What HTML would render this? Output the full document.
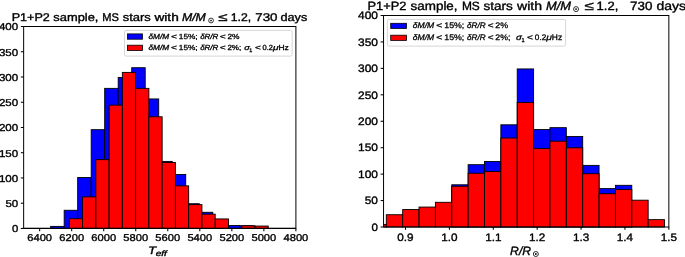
<!DOCTYPE html>
<html lang="en"><head><meta charset="utf-8"><title>P1+P2 sample histograms</title>
<style>
html,body{margin:0;padding:0;background:#fff;}
body{width:685px;height:257px;overflow:hidden;font-family:"Liberation Sans",sans-serif;}
svg{will-change:transform;}
svg text{font-family:"Liberation Sans",sans-serif;stroke:#000;stroke-width:0.36px;stroke-linejoin:round;text-rendering:geometricPrecision;}
svg .lg text{stroke-width:0.3px;}
</style></head><body>
<svg role="img" aria-label="Two histograms of the P1+P2 sample: Teff and R/Rsun" width="685" height="257" viewBox="0 0 685 257" style="display:block" fill="#000">
<rect width="685" height="257" fill="#fff"/>
<g id="left-plot">
<rect x="50.66" y="226.39" width="13.51" height="2.06" fill="#0000ff" stroke="#000" stroke-width="0.9"/>
<rect x="64.17" y="210.27" width="13.51" height="18.18" fill="#0000ff" stroke="#000" stroke-width="0.9"/>
<rect x="77.67" y="177.53" width="13.51" height="50.92" fill="#0000ff" stroke="#000" stroke-width="0.9"/>
<rect x="91.18" y="129.67" width="13.51" height="98.78" fill="#0000ff" stroke="#000" stroke-width="0.9"/>
<rect x="104.69" y="88.36" width="13.51" height="140.09" fill="#0000ff" stroke="#000" stroke-width="0.9"/>
<rect x="118.19" y="77.53" width="13.51" height="150.92" fill="#0000ff" stroke="#000" stroke-width="0.9"/>
<rect x="131.70" y="67.71" width="13.51" height="160.74" fill="#0000ff" stroke="#000" stroke-width="0.9"/>
<rect x="145.21" y="98.94" width="13.51" height="129.51" fill="#0000ff" stroke="#000" stroke-width="0.9"/>
<rect x="158.72" y="161.41" width="13.51" height="67.04" fill="#0000ff" stroke="#000" stroke-width="0.9"/>
<rect x="172.22" y="174.50" width="13.51" height="53.95" fill="#0000ff" stroke="#000" stroke-width="0.9"/>
<rect x="185.73" y="203.72" width="13.51" height="24.73" fill="#0000ff" stroke="#000" stroke-width="0.9"/>
<rect x="199.24" y="212.28" width="13.51" height="16.17" fill="#0000ff" stroke="#000" stroke-width="0.9"/>
<rect x="212.74" y="220.34" width="13.51" height="8.11" fill="#0000ff" stroke="#000" stroke-width="0.9"/>
<rect x="226.25" y="225.53" width="13.51" height="2.92" fill="#0000ff" stroke="#000" stroke-width="0.9"/>
<rect x="239.76" y="225.73" width="13.51" height="2.72" fill="#0000ff" stroke="#000" stroke-width="0.9"/>
<rect x="69.32" y="218.68" width="13.26" height="9.77" fill="#ff0000" stroke="#000" stroke-width="0.9"/>
<rect x="82.58" y="196.87" width="13.26" height="31.58" fill="#ff0000" stroke="#000" stroke-width="0.9"/>
<rect x="95.84" y="159.64" width="13.26" height="68.81" fill="#ff0000" stroke="#000" stroke-width="0.9"/>
<rect x="109.10" y="105.14" width="13.26" height="123.31" fill="#ff0000" stroke="#000" stroke-width="0.9"/>
<rect x="122.36" y="72.39" width="13.26" height="156.06" fill="#ff0000" stroke="#000" stroke-width="0.9"/>
<rect x="135.62" y="88.36" width="13.26" height="140.09" fill="#ff0000" stroke="#000" stroke-width="0.9"/>
<rect x="148.89" y="116.77" width="13.26" height="111.68" fill="#ff0000" stroke="#000" stroke-width="0.9"/>
<rect x="162.15" y="162.51" width="13.26" height="65.94" fill="#ff0000" stroke="#000" stroke-width="0.9"/>
<rect x="175.41" y="185.84" width="13.26" height="42.61" fill="#ff0000" stroke="#000" stroke-width="0.9"/>
<rect x="188.67" y="204.63" width="13.26" height="23.82" fill="#ff0000" stroke="#000" stroke-width="0.9"/>
<rect x="201.93" y="214.15" width="13.26" height="14.30" fill="#ff0000" stroke="#000" stroke-width="0.9"/>
<rect x="215.19" y="218.93" width="13.26" height="9.52" fill="#ff0000" stroke="#000" stroke-width="0.9"/>
<rect x="241.71" y="225.78" width="13.26" height="2.67" fill="#ff0000" stroke="#000" stroke-width="0.9"/>
<rect x="254.97" y="226.04" width="13.26" height="2.41" fill="#ff0000" stroke="#000" stroke-width="0.9"/>
<line x1="23.65" x2="295.9" y1="228.45" y2="228.45" stroke="#000" stroke-width="1.25"/>
<rect x="23.65" y="26.5" width="272.25" height="201.95" fill="none" stroke="#000" stroke-width="1.0"/>
<line x1="20.85" x2="23.65" y1="228.45" y2="228.45" stroke="#000" stroke-width="1.05"/>
<text x="11.90" y="232.30" font-size="10.0" textLength="6.30" lengthAdjust="spacingAndGlyphs">0</text>
<line x1="20.85" x2="23.65" y1="203.21" y2="203.21" stroke="#000" stroke-width="1.05"/>
<text x="5.40" y="207.06" font-size="10.0" textLength="12.80" lengthAdjust="spacingAndGlyphs">50</text>
<line x1="20.85" x2="23.65" y1="177.96" y2="177.96" stroke="#000" stroke-width="1.05"/>
<text x="-1.10" y="181.81" font-size="10.0" textLength="19.30" lengthAdjust="spacingAndGlyphs">100</text>
<line x1="20.85" x2="23.65" y1="152.72" y2="152.72" stroke="#000" stroke-width="1.05"/>
<text x="-1.10" y="156.57" font-size="10.0" textLength="19.30" lengthAdjust="spacingAndGlyphs">150</text>
<line x1="20.85" x2="23.65" y1="127.47" y2="127.47" stroke="#000" stroke-width="1.05"/>
<text x="-1.10" y="131.32" font-size="10.0" textLength="19.30" lengthAdjust="spacingAndGlyphs">200</text>
<line x1="20.85" x2="23.65" y1="102.23" y2="102.23" stroke="#000" stroke-width="1.05"/>
<text x="-1.10" y="106.08" font-size="10.0" textLength="19.30" lengthAdjust="spacingAndGlyphs">250</text>
<line x1="20.85" x2="23.65" y1="76.99" y2="76.99" stroke="#000" stroke-width="1.05"/>
<text x="-1.10" y="80.84" font-size="10.0" textLength="19.30" lengthAdjust="spacingAndGlyphs">300</text>
<line x1="20.85" x2="23.65" y1="51.74" y2="51.74" stroke="#000" stroke-width="1.05"/>
<text x="-1.10" y="55.59" font-size="10.0" textLength="19.30" lengthAdjust="spacingAndGlyphs">350</text>
<line x1="20.85" x2="23.65" y1="26.50" y2="26.50" stroke="#000" stroke-width="1.05"/>
<text x="-1.10" y="30.35" font-size="10.0" textLength="19.30" lengthAdjust="spacingAndGlyphs">400</text>
<line x1="39.66" x2="39.66" y1="228.45" y2="231.15" stroke="#000" stroke-width="1.05"/>
<text x="27.27" y="241.25" font-size="9.9" textLength="24.79" lengthAdjust="spacingAndGlyphs">6400</text>
<line x1="71.69" x2="71.69" y1="228.45" y2="231.15" stroke="#000" stroke-width="1.05"/>
<text x="59.30" y="241.25" font-size="9.9" textLength="24.79" lengthAdjust="spacingAndGlyphs">6200</text>
<line x1="103.72" x2="103.72" y1="228.45" y2="231.15" stroke="#000" stroke-width="1.05"/>
<text x="91.33" y="241.25" font-size="9.9" textLength="24.79" lengthAdjust="spacingAndGlyphs">6000</text>
<line x1="135.75" x2="135.75" y1="228.45" y2="231.15" stroke="#000" stroke-width="1.05"/>
<text x="123.36" y="241.25" font-size="9.9" textLength="24.79" lengthAdjust="spacingAndGlyphs">5800</text>
<line x1="167.78" x2="167.78" y1="228.45" y2="231.15" stroke="#000" stroke-width="1.05"/>
<text x="155.39" y="241.25" font-size="9.9" textLength="24.79" lengthAdjust="spacingAndGlyphs">5600</text>
<line x1="199.81" x2="199.81" y1="228.45" y2="231.15" stroke="#000" stroke-width="1.05"/>
<text x="187.42" y="241.25" font-size="9.9" textLength="24.79" lengthAdjust="spacingAndGlyphs">5400</text>
<line x1="231.84" x2="231.84" y1="228.45" y2="231.15" stroke="#000" stroke-width="1.05"/>
<text x="219.45" y="241.25" font-size="9.9" textLength="24.79" lengthAdjust="spacingAndGlyphs">5200</text>
<line x1="263.87" x2="263.87" y1="228.45" y2="231.15" stroke="#000" stroke-width="1.05"/>
<text x="251.47" y="241.25" font-size="9.9" textLength="24.79" lengthAdjust="spacingAndGlyphs">5000</text>
<line x1="295.90" x2="295.90" y1="228.45" y2="231.15" stroke="#000" stroke-width="1.05"/>
<text x="283.50" y="241.25" font-size="9.9" textLength="24.79" lengthAdjust="spacingAndGlyphs">4800</text>
<text x="11.65" y="21.35" font-size="11.2" textLength="38.20" lengthAdjust="spacingAndGlyphs">P1+P2</text>
<text x="53.35" y="21.35" font-size="11.2" textLength="45.10" lengthAdjust="spacingAndGlyphs">sample,</text>
<text x="102.35" y="21.35" font-size="11.2" textLength="16.60" lengthAdjust="spacingAndGlyphs">MS</text>
<text x="122.75" y="21.35" font-size="11.2" textLength="28.10" lengthAdjust="spacingAndGlyphs">stars</text>
<text x="154.45" y="21.35" font-size="11.2" textLength="24.30" lengthAdjust="spacingAndGlyphs">with</text>
<text x="181.95" y="21.35" font-size="11.2" font-style="italic" textLength="23.90" lengthAdjust="spacingAndGlyphs">M/M</text>
<circle cx="211.05" cy="20.50" r="2.40" fill="none" stroke="#000" stroke-width="0.8"/>
<circle cx="211.05" cy="20.50" r="0.86" fill="#000"/>
<text x="218.35" y="21.35" font-size="11.2" textLength="9.30" lengthAdjust="spacingAndGlyphs">≤</text>
<text x="230.75" y="21.35" font-size="11.2" textLength="20.40" lengthAdjust="spacingAndGlyphs">1.2,</text>
<text x="255.25" y="21.35" font-size="11.2" textLength="22.30" lengthAdjust="spacingAndGlyphs">730</text>
<text x="280.40" y="21.35" font-size="11.2" textLength="26.85" lengthAdjust="spacingAndGlyphs">days</text>
<text x="148.07" y="254.40" font-size="10.8" font-style="italic" textLength="8.16" lengthAdjust="spacingAndGlyphs">T</text>
<text x="155.69" y="256.30" font-size="7.8" font-style="italic" textLength="11.22" lengthAdjust="spacingAndGlyphs">eff</text>
<g class="lg">
<rect x="124.5" y="30.4" width="167.65" height="25.70" rx="1.6" fill="#fff" fill-opacity="0.8" stroke="#ccc" stroke-width="0.8"/>
<rect x="127.4" y="33.9" width="15.1" height="5.3" fill="#0000ff" stroke="#000" stroke-width="0.8"/>
<rect x="127.4" y="45.2" width="15.1" height="5.3" fill="#ff0000" stroke="#000" stroke-width="0.8"/>
<text x="148.50" y="38.90" font-size="7.4" font-style="italic" textLength="20.64" lengthAdjust="spacingAndGlyphs">δM/M</text>
<text x="171.10" y="38.90" font-size="7.4" textLength="5.99" lengthAdjust="spacingAndGlyphs">&lt;</text>
<text x="178.80" y="38.90" font-size="7.4" textLength="18.79" lengthAdjust="spacingAndGlyphs">15%;</text>
<text x="200.20" y="38.90" font-size="7.4" font-style="italic" textLength="17.99" lengthAdjust="spacingAndGlyphs">δR/R</text>
<text x="219.80" y="38.90" font-size="7.4" textLength="5.99" lengthAdjust="spacingAndGlyphs">&lt;</text>
<text x="148.50" y="50.20" font-size="7.4" font-style="italic" textLength="20.64" lengthAdjust="spacingAndGlyphs">δM/M</text>
<text x="171.10" y="50.20" font-size="7.4" textLength="5.99" lengthAdjust="spacingAndGlyphs">&lt;</text>
<text x="178.80" y="50.20" font-size="7.4" textLength="18.79" lengthAdjust="spacingAndGlyphs">15%;</text>
<text x="200.20" y="50.20" font-size="7.4" font-style="italic" textLength="17.99" lengthAdjust="spacingAndGlyphs">δR/R</text>
<text x="219.80" y="50.20" font-size="7.4" textLength="5.99" lengthAdjust="spacingAndGlyphs">&lt;</text>
<text x="227.40" y="38.90" font-size="7.4" textLength="12.09" lengthAdjust="spacingAndGlyphs">2%</text>
<text x="227.40" y="50.20" font-size="7.4" textLength="13.89" lengthAdjust="spacingAndGlyphs">2%;</text>
<text x="244.30" y="50.20" font-size="7.4" font-style="italic" textLength="5.59" lengthAdjust="spacingAndGlyphs">σ</text>
<text x="249.39" y="51.80" font-size="5.18" textLength="3.01" lengthAdjust="spacingAndGlyphs">1</text>
<text x="255.00" y="50.20" font-size="7.4" textLength="5.89" lengthAdjust="spacingAndGlyphs">&lt;</text>
<text x="262.60" y="50.20" font-size="7.4" textLength="10.39" lengthAdjust="spacingAndGlyphs">0.2</text>
<text x="273.00" y="50.20" font-size="7.4" font-style="italic" textLength="5.59" lengthAdjust="spacingAndGlyphs">μ</text>
<text x="278.40" y="50.20" font-size="7.4" textLength="10.29" lengthAdjust="spacingAndGlyphs">Hz</text>
</g>
</g>
<g id="right-plot">
<clipPath id="c2"><rect x="383.55" y="15.5" width="285.30" height="212.50"/></clipPath>
<g clip-path="url(#c2)">
<rect x="451.76" y="184.79" width="16.37" height="42.21" fill="#0000ff" stroke="#000" stroke-width="0.9"/>
<rect x="468.13" y="164.69" width="16.37" height="62.31" fill="#0000ff" stroke="#000" stroke-width="0.9"/>
<rect x="484.50" y="161.46" width="16.37" height="65.54" fill="#0000ff" stroke="#000" stroke-width="0.9"/>
<rect x="500.86" y="124.80" width="16.37" height="102.20" fill="#0000ff" stroke="#000" stroke-width="0.9"/>
<rect x="517.23" y="68.94" width="16.37" height="158.06" fill="#0000ff" stroke="#000" stroke-width="0.9"/>
<rect x="533.59" y="129.56" width="16.37" height="97.44" fill="#0000ff" stroke="#000" stroke-width="0.9"/>
<rect x="549.96" y="127.66" width="16.37" height="99.34" fill="#0000ff" stroke="#000" stroke-width="0.9"/>
<rect x="566.33" y="136.44" width="16.37" height="90.56" fill="#0000ff" stroke="#000" stroke-width="0.9"/>
<rect x="582.69" y="165.38" width="16.37" height="61.62" fill="#0000ff" stroke="#000" stroke-width="0.9"/>
<rect x="599.06" y="188.60" width="16.37" height="38.40" fill="#0000ff" stroke="#000" stroke-width="0.9"/>
<rect x="615.42" y="185.32" width="16.37" height="41.68" fill="#0000ff" stroke="#000" stroke-width="0.9"/>
<rect x="369.93" y="224.41" width="16.37" height="2.59" fill="#ff0000" stroke="#000" stroke-width="0.9"/>
<rect x="386.30" y="214.73" width="16.37" height="12.27" fill="#ff0000" stroke="#000" stroke-width="0.9"/>
<rect x="402.67" y="209.55" width="16.37" height="17.45" fill="#ff0000" stroke="#000" stroke-width="0.9"/>
<rect x="419.03" y="207.06" width="16.37" height="19.94" fill="#ff0000" stroke="#000" stroke-width="0.9"/>
<rect x="435.40" y="202.30" width="16.37" height="24.70" fill="#ff0000" stroke="#000" stroke-width="0.9"/>
<rect x="451.76" y="186.27" width="16.37" height="40.73" fill="#ff0000" stroke="#000" stroke-width="0.9"/>
<rect x="468.13" y="173.26" width="16.37" height="53.74" fill="#ff0000" stroke="#000" stroke-width="0.9"/>
<rect x="484.50" y="171.57" width="16.37" height="55.43" fill="#ff0000" stroke="#000" stroke-width="0.9"/>
<rect x="500.86" y="138.03" width="16.37" height="88.97" fill="#ff0000" stroke="#000" stroke-width="0.9"/>
<rect x="517.23" y="102.43" width="16.37" height="124.57" fill="#ff0000" stroke="#000" stroke-width="0.9"/>
<rect x="533.59" y="148.61" width="16.37" height="78.39" fill="#ff0000" stroke="#000" stroke-width="0.9"/>
<rect x="549.96" y="141.20" width="16.37" height="85.80" fill="#ff0000" stroke="#000" stroke-width="0.9"/>
<rect x="566.33" y="147.81" width="16.37" height="79.19" fill="#ff0000" stroke="#000" stroke-width="0.9"/>
<rect x="582.69" y="173.74" width="16.37" height="53.26" fill="#ff0000" stroke="#000" stroke-width="0.9"/>
<rect x="599.06" y="193.73" width="16.37" height="33.27" fill="#ff0000" stroke="#000" stroke-width="0.9"/>
<rect x="615.42" y="189.55" width="16.37" height="37.45" fill="#ff0000" stroke="#000" stroke-width="0.9"/>
<rect x="631.79" y="200.19" width="16.37" height="26.81" fill="#ff0000" stroke="#000" stroke-width="0.9"/>
<rect x="648.16" y="219.65" width="16.37" height="7.35" fill="#ff0000" stroke="#000" stroke-width="0.9"/>
</g>
<rect x="383.55" y="15.5" width="285.30" height="211.50" fill="none" stroke="#000" stroke-width="1.0"/>
<line x1="380.65" x2="383.55" y1="227.00" y2="227.00" stroke="#000" stroke-width="1.05"/>
<text x="371.52" y="230.75" font-size="10.8" textLength="6.41" lengthAdjust="spacingAndGlyphs">0</text>
<line x1="380.65" x2="383.55" y1="200.56" y2="200.56" stroke="#000" stroke-width="1.05"/>
<text x="364.77" y="204.31" font-size="10.8" textLength="13.16" lengthAdjust="spacingAndGlyphs">50</text>
<line x1="380.65" x2="383.55" y1="174.12" y2="174.12" stroke="#000" stroke-width="1.05"/>
<text x="358.02" y="177.88" font-size="10.8" textLength="19.91" lengthAdjust="spacingAndGlyphs">100</text>
<line x1="380.65" x2="383.55" y1="147.69" y2="147.69" stroke="#000" stroke-width="1.05"/>
<text x="358.02" y="151.44" font-size="10.8" textLength="19.91" lengthAdjust="spacingAndGlyphs">150</text>
<line x1="380.65" x2="383.55" y1="121.25" y2="121.25" stroke="#000" stroke-width="1.05"/>
<text x="358.02" y="125.00" font-size="10.8" textLength="19.91" lengthAdjust="spacingAndGlyphs">200</text>
<line x1="380.65" x2="383.55" y1="94.81" y2="94.81" stroke="#000" stroke-width="1.05"/>
<text x="358.02" y="98.56" font-size="10.8" textLength="19.91" lengthAdjust="spacingAndGlyphs">250</text>
<line x1="380.65" x2="383.55" y1="68.37" y2="68.37" stroke="#000" stroke-width="1.05"/>
<text x="358.02" y="72.12" font-size="10.8" textLength="19.91" lengthAdjust="spacingAndGlyphs">300</text>
<line x1="380.65" x2="383.55" y1="41.94" y2="41.94" stroke="#000" stroke-width="1.05"/>
<text x="358.02" y="45.69" font-size="10.8" textLength="19.91" lengthAdjust="spacingAndGlyphs">350</text>
<line x1="380.65" x2="383.55" y1="15.50" y2="15.50" stroke="#000" stroke-width="1.05"/>
<text x="358.02" y="19.25" font-size="10.8" textLength="19.91" lengthAdjust="spacingAndGlyphs">400</text>
<line x1="405.50" x2="405.50" y1="227.00" y2="229.80" stroke="#000" stroke-width="1.05"/>
<text x="397.36" y="240.60" font-size="10.8" textLength="16.26" lengthAdjust="spacingAndGlyphs">0.9</text>
<line x1="449.39" x2="449.39" y1="227.00" y2="229.80" stroke="#000" stroke-width="1.05"/>
<text x="441.26" y="240.60" font-size="10.8" textLength="16.26" lengthAdjust="spacingAndGlyphs">1.0</text>
<line x1="493.28" x2="493.28" y1="227.00" y2="229.80" stroke="#000" stroke-width="1.05"/>
<text x="485.15" y="240.60" font-size="10.8" textLength="16.26" lengthAdjust="spacingAndGlyphs">1.1</text>
<line x1="537.17" x2="537.17" y1="227.00" y2="229.80" stroke="#000" stroke-width="1.05"/>
<text x="529.04" y="240.60" font-size="10.8" textLength="16.26" lengthAdjust="spacingAndGlyphs">1.2</text>
<line x1="581.07" x2="581.07" y1="227.00" y2="229.80" stroke="#000" stroke-width="1.05"/>
<text x="572.93" y="240.60" font-size="10.8" textLength="16.26" lengthAdjust="spacingAndGlyphs">1.3</text>
<line x1="624.96" x2="624.96" y1="227.00" y2="229.80" stroke="#000" stroke-width="1.05"/>
<text x="616.83" y="240.60" font-size="10.8" textLength="16.26" lengthAdjust="spacingAndGlyphs">1.4</text>
<line x1="668.85" x2="668.85" y1="227.00" y2="229.80" stroke="#000" stroke-width="1.05"/>
<text x="660.72" y="240.60" font-size="10.8" textLength="16.26" lengthAdjust="spacingAndGlyphs">1.5</text>
<text x="367.42" y="9.70" font-size="12.0" textLength="38.96" lengthAdjust="spacingAndGlyphs">P1+P2</text>
<text x="410.57" y="9.70" font-size="12.0" textLength="47.01" lengthAdjust="spacingAndGlyphs">sample,</text>
<text x="461.92" y="9.70" font-size="12.0" textLength="17.91" lengthAdjust="spacingAndGlyphs">MS</text>
<text x="483.57" y="9.70" font-size="12.0" textLength="29.31" lengthAdjust="spacingAndGlyphs">stars</text>
<text x="516.97" y="9.70" font-size="12.0" textLength="25.06" lengthAdjust="spacingAndGlyphs">with</text>
<text x="546.02" y="9.70" font-size="12.0" font-style="italic" textLength="24.96" lengthAdjust="spacingAndGlyphs">M/M</text>
<circle cx="576.05" cy="9.10" r="2.50" fill="none" stroke="#000" stroke-width="0.8"/>
<circle cx="576.05" cy="9.10" r="0.90" fill="#000"/>
<text x="584.47" y="9.70" font-size="12.0" textLength="9.41" lengthAdjust="spacingAndGlyphs">≤</text>
<text x="596.62" y="9.70" font-size="12.0" textLength="21.76" lengthAdjust="spacingAndGlyphs">1.2,</text>
<text x="630.12" y="9.70" font-size="12.0" textLength="22.36" lengthAdjust="spacingAndGlyphs">730</text>
<text x="656.42" y="9.70" font-size="12.0" textLength="29.56" lengthAdjust="spacingAndGlyphs">days</text>
<text x="510.12" y="254.80" font-size="12.0" font-style="italic" textLength="20.96" lengthAdjust="spacingAndGlyphs">R/R</text>
<circle cx="535.85" cy="254.00" r="2.50" fill="none" stroke="#000" stroke-width="0.8"/>
<circle cx="535.85" cy="254.00" r="0.90" fill="#000"/>
<g class="lg">
<rect x="387.4" y="19.4" width="178.20" height="26.70" rx="1.7" fill="#fff" fill-opacity="0.8" stroke="#ccc" stroke-width="0.8"/>
<rect x="390.7" y="23.3" width="15.8" height="5.2" fill="#0000ff" stroke="#000" stroke-width="0.8"/>
<rect x="390.7" y="35.2" width="15.8" height="5.2" fill="#ff0000" stroke="#000" stroke-width="0.8"/>
<text x="412.88" y="28.30" font-size="8.0" font-style="italic" textLength="21.34" lengthAdjust="spacingAndGlyphs">δM/M</text>
<text x="436.38" y="28.30" font-size="8.0" textLength="6.04" lengthAdjust="spacingAndGlyphs">&lt;</text>
<text x="444.28" y="28.30" font-size="8.0" textLength="20.04" lengthAdjust="spacingAndGlyphs">15%;</text>
<text x="467.08" y="28.30" font-size="8.0" font-style="italic" textLength="18.44" lengthAdjust="spacingAndGlyphs">δR/R</text>
<text x="487.88" y="28.30" font-size="8.0" textLength="5.84" lengthAdjust="spacingAndGlyphs">&lt;</text>
<text x="412.88" y="40.10" font-size="8.0" font-style="italic" textLength="21.34" lengthAdjust="spacingAndGlyphs">δM/M</text>
<text x="436.38" y="40.10" font-size="8.0" textLength="6.04" lengthAdjust="spacingAndGlyphs">&lt;</text>
<text x="444.28" y="40.10" font-size="8.0" textLength="20.04" lengthAdjust="spacingAndGlyphs">15%;</text>
<text x="467.08" y="40.10" font-size="8.0" font-style="italic" textLength="18.44" lengthAdjust="spacingAndGlyphs">δR/R</text>
<text x="487.88" y="40.10" font-size="8.0" textLength="5.84" lengthAdjust="spacingAndGlyphs">&lt;</text>
<text x="495.33" y="28.30" font-size="8.0" textLength="12.74" lengthAdjust="spacingAndGlyphs">2%</text>
<text x="495.33" y="40.10" font-size="8.0" textLength="15.04" lengthAdjust="spacingAndGlyphs">2%;</text>
<text x="516.08" y="40.10" font-size="8.0" font-style="italic" textLength="5.84" lengthAdjust="spacingAndGlyphs">σ</text>
<text x="521.38" y="41.80" font-size="5.6" textLength="3.15" lengthAdjust="spacingAndGlyphs">1</text>
<text x="527.08" y="40.10" font-size="8.0" textLength="5.94" lengthAdjust="spacingAndGlyphs">&lt;</text>
<text x="534.88" y="40.10" font-size="8.0" textLength="11.34" lengthAdjust="spacingAndGlyphs">0.2</text>
<text x="546.18" y="40.10" font-size="8.0" font-style="italic" textLength="5.64" lengthAdjust="spacingAndGlyphs">μ</text>
<text x="551.83" y="40.10" font-size="8.0" textLength="10.29" lengthAdjust="spacingAndGlyphs">Hz</text>
</g>
</g>
</svg>
</body></html>
